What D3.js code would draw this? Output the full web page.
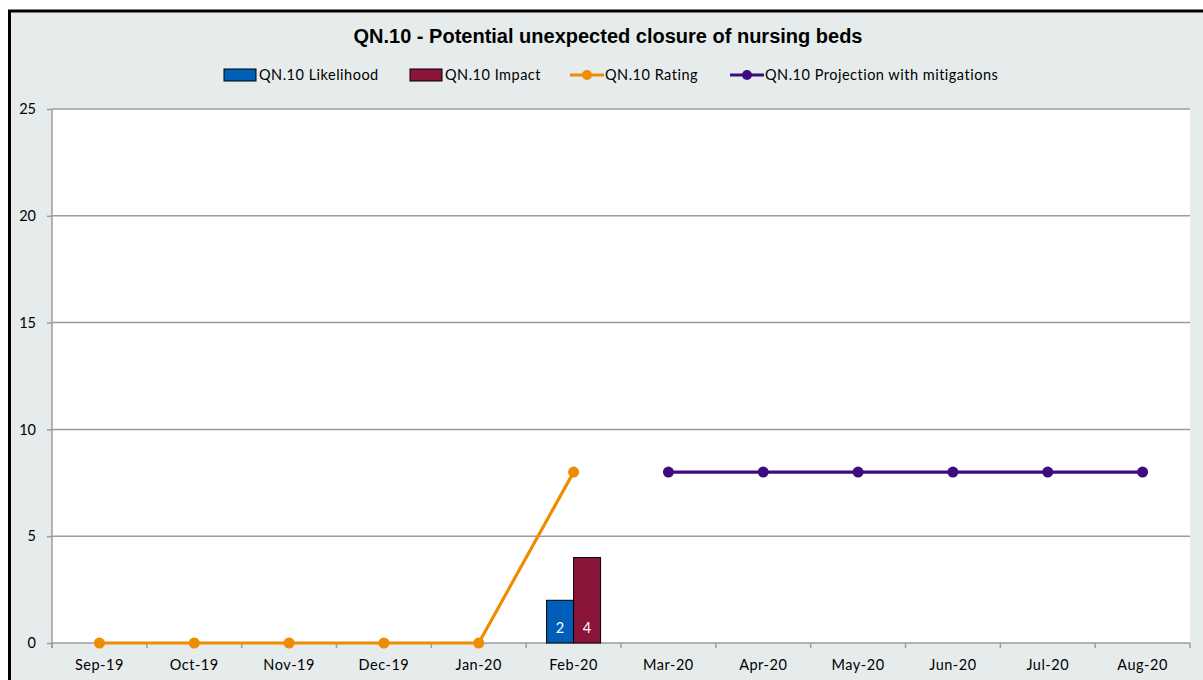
<!DOCTYPE html>
<html>
<head>
<meta charset="utf-8">
<script src="https://cdn.jsdelivr.net/npm/d3@7"></script>
<style>
  html, body { margin: 0; padding: 0; background: #ffffff; }
  svg { display: block; }
</style>
</head>
<body>
<svg id="chart" width="1203" height="680"></svg>
<script>
// Monthly risk scores for QN.10
const months = ["Sep-19","Oct-19","Nov-19","Dec-19","Jan-20","Feb-20","Mar-20","Apr-20","May-20","Jun-20","Jul-20","Aug-20"];
const likelihood = [null, null, null, null, null, 2, null, null, null, null, null, null];
const impact     = [null, null, null, null, null, 4, null, null, null, null, null, null];
const rating     = [0, 0, 0, 0, 0, 8, null, null, null, null, null, null];
const projection = [null, null, null, null, null, null, 8, 8, 8, 8, 8, 8];
const yTicks = [0, 5, 10, 15, 20, 25];

const title = "QN.10 - Potential unexpected closure of nursing beds";
const seriesNames = ["QN.10 Likelihood", "QN.10 Impact", "QN.10 Rating", "QN.10 Projection with mitigations"];

const colors = {
  likelihood: "#005EB8",
  impact: "#8A1538",
  rating: "#F08C00",
  projection: "#3E0A7E"
};

const bodyFont = "Lato, 'Open Sans', 'DejaVu Sans', sans-serif";

const svg = d3.select("#chart");
const W = 1203, H = 680;
const plot = { left: 52, top: 109, right: 1190, bottom: 643 };

// chart frame
svg.append("rect").attr("x", 0).attr("y", 0).attr("width", W).attr("height", H).attr("fill", "#ffffff");
svg.append("rect")
  .attr("x", 9.5).attr("y", 11).attr("width", W + 20).attr("height", H + 20)
  .attr("fill", "#E6ECEC").attr("stroke", "#000").attr("stroke-width", 3);

// plot area
svg.append("rect")
  .attr("x", plot.left).attr("y", plot.top)
  .attr("width", plot.right - plot.left).attr("height", plot.bottom - plot.top)
  .attr("fill", "#ffffff");

const x = d3.scaleBand().domain(months).range([plot.left, plot.right]);
const y = d3.scaleLinear().domain([0, 25]).range([plot.bottom, plot.top]);

// horizontal gridlines
svg.append("g").selectAll("line").data(yTicks.filter(t => t > 0)).join("line")
  .attr("x1", plot.left).attr("x2", plot.right)
  .attr("y1", d => y(d)).attr("y2", d => y(d))
  .attr("stroke", "#9C9C9C").attr("stroke-width", 1.5);

// y axis
const yAxis = svg.append("g").attr("transform", `translate(${plot.left},0)`)
  .call(d3.axisLeft(y).tickValues(yTicks).tickSize(5).tickPadding(11).tickFormat(d3.format("d")));
yAxis.select(".domain").attr("stroke", "#9C9C9C").attr("stroke-width", 1.5)
  .attr("d", `M0,${plot.bottom + 5}V${plot.top}`);
yAxis.selectAll(".tick line").attr("stroke", "#9C9C9C").attr("stroke-width", 1.5);
yAxis.selectAll(".tick text")
  .attr("font-family", bodyFont).attr("font-size", 14.5).attr("fill", "#000");

// x axis (ticks on category boundaries)
const xAxisG = svg.append("g").attr("transform", `translate(0,${plot.bottom})`);
xAxisG.append("line")
  .attr("x1", plot.left).attr("x2", plot.right)
  .attr("stroke", "#9C9C9C").attr("stroke-width", 1.5);
const boundaries = months.map(m => x(m)).concat([x(months[months.length - 1]) + x.bandwidth()]);
xAxisG.selectAll(".bt").data(boundaries).join("line").attr("class", "bt")
  .attr("x1", d => d).attr("x2", d => d).attr("y1", 0).attr("y2", 5)
  .attr("stroke", "#9C9C9C").attr("stroke-width", 1.5);
xAxisG.selectAll(".lbl").data(months).join("text").attr("class", "lbl")
  .attr("x", d => x(d) + x.bandwidth() / 2).attr("y", 27)
  .attr("text-anchor", "middle")
  .attr("font-family", bodyFont).attr("font-size", 14.5).attr("letter-spacing", 0.5).attr("fill", "#000")
  .text(d => d);

// grouped bars
const inner = d3.scaleBand().domain(["likelihood", "impact"]).range([0, 54]);
const barOffset = (x.bandwidth() - 54) / 2;
const barData = [];
months.forEach((m, i) => {
  if (likelihood[i] != null) barData.push({ m, key: "likelihood", v: likelihood[i] });
  if (impact[i] != null) barData.push({ m, key: "impact", v: impact[i] });
});
const bars = svg.append("g");
bars.selectAll("rect").data(barData).join("rect")
  .attr("x", d => x(d.m) + barOffset + inner(d.key))
  .attr("y", d => y(d.v))
  .attr("width", inner.bandwidth())
  .attr("height", d => y(0) - y(d.v))
  .attr("fill", d => colors[d.key])
  .attr("stroke", "#000").attr("stroke-width", 1);
bars.selectAll("text").data(barData).join("text")
  .attr("x", d => x(d.m) + barOffset + inner(d.key) + inner.bandwidth() / 2)
  .attr("y", y(0) - 10)
  .attr("text-anchor", "middle")
  .attr("font-family", bodyFont).attr("font-size", 14.5).attr("fill", "#fff")
  .text(d => d.v);

// lines with markers
function drawSeries(values, color) {
  const pts = months.map((m, i) => ({ m, v: values[i] })).filter(d => d.v != null);
  const line = d3.line().x(d => x(d.m) + x.bandwidth() / 2).y(d => y(d.v));
  const g = svg.append("g");
  g.append("path").datum(pts).attr("d", line)
    .attr("fill", "none").attr("stroke", color).attr("stroke-width", 3.2);
  g.selectAll("circle").data(pts).join("circle")
    .attr("cx", d => x(d.m) + x.bandwidth() / 2).attr("cy", d => y(d.v))
    .attr("r", 5.5).attr("fill", color);
}
drawSeries(rating, colors.rating);
drawSeries(projection, colors.projection);

// title
svg.append("text")
  .attr("x", 608).attr("y", 43).attr("text-anchor", "middle")
  .attr("font-family", "'Liberation Sans', Arial, sans-serif").attr("font-weight", "bold")
  .attr("font-size", 20).attr("fill", "#000")
  .text(title);

// legend
const legend = svg.append("g").attr("font-family", bodyFont).attr("font-size", 14.5).attr("letter-spacing", 0.5);
const legendItems = [
  { name: seriesNames[0], type: "bar", color: colors.likelihood, x: 224 },
  { name: seriesNames[1], type: "bar", color: colors.impact, x: 410 },
  { name: seriesNames[2], type: "line", color: colors.rating, x: 570 },
  { name: seriesNames[3], type: "line", color: colors.projection, x: 730 }
];
const ly = 75;
legendItems.forEach(it => {
  const g = legend.append("g");
  if (it.type === "bar") {
    g.append("rect").attr("x", it.x).attr("y", ly - 6).attr("width", 32).attr("height", 12)
      .attr("fill", it.color).attr("stroke", "#000").attr("stroke-width", 1);
  } else {
    g.append("line").attr("x1", it.x).attr("x2", it.x + 34).attr("y1", ly).attr("y2", ly)
      .attr("stroke", it.color).attr("stroke-width", 3.2);
    g.append("circle").attr("cx", it.x + 17).attr("cy", ly).attr("r", 5).attr("fill", it.color);
  }
  g.append("text").attr("x", it.x + 35).attr("y", ly + 5).attr("fill", "#000").text(it.name);
});
</script>
</body>
</html>
